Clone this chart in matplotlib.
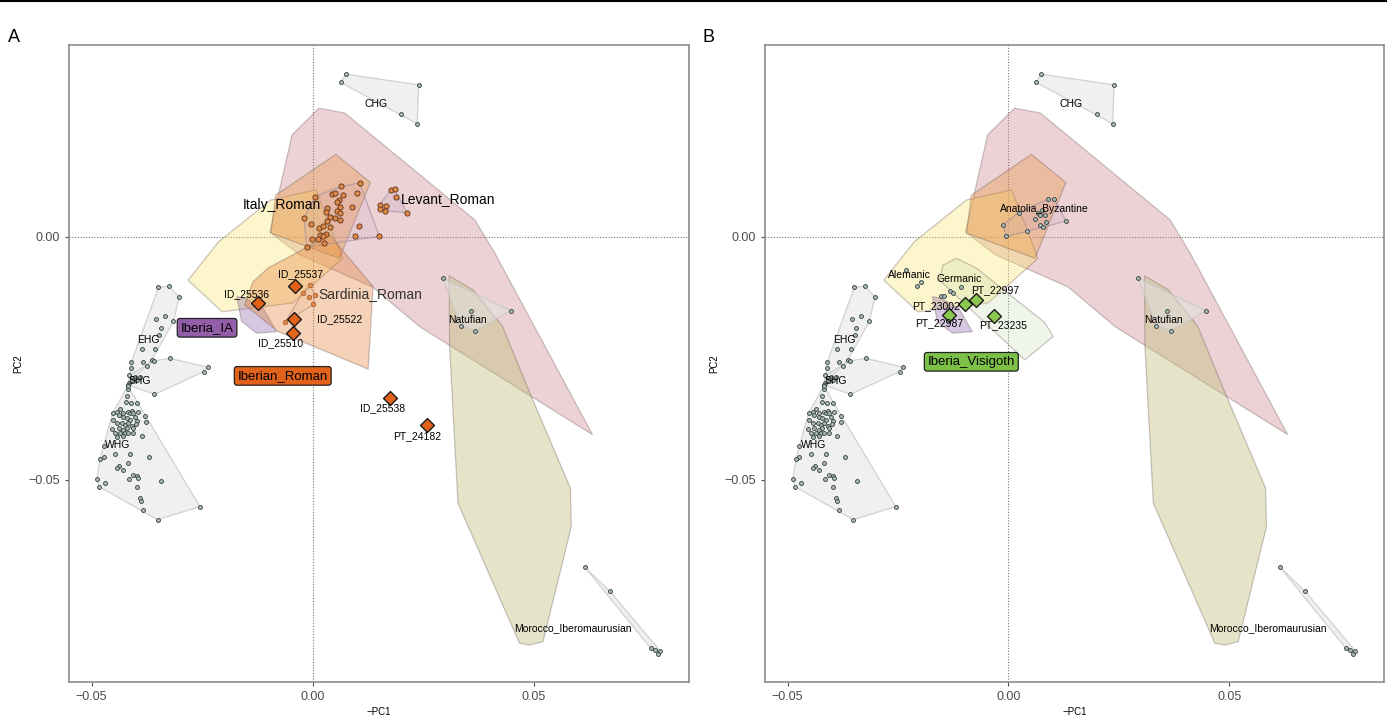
import matplotlib
matplotlib.use('Agg')
import matplotlib.pyplot as plt  # NOQA
from matplotlib.colors import to_rgba  # NOQA
from matplotlib.lines import Line2D  # NOQA
import numpy as np  # NOQA

plt.rcParams['font.family'] = ['Liberation Sans', 'DejaVu Sans']

# ---- grey reference populations (PC1 flipped, PC2) ----
chg = [[0.0074, 0.0335], [0.0063, 0.0318], [0.0239, 0.0313],
       [0.0200, 0.0254], [0.0236, 0.0233]]
ehg = [[-0.0349, -0.0104], [-0.0325, -0.0101], [-0.0302, -0.0124],
       [-0.0354, -0.0169], [-0.0334, -0.0163], [-0.0315, -0.0174],
       [-0.0344, -0.0187], [-0.0348, -0.0202], [-0.0387, -0.0231],
       [-0.0357, -0.0231], [-0.0364, -0.0254], [-0.0384, -0.0257],
       [-0.0410, -0.0258], [-0.0411, -0.0270], [-0.0415, -0.0301]]
shg = [[-0.0323, -0.0250], [-0.0238, -0.0268], [-0.0246, -0.0277],
       [-0.0358, -0.0324], [-0.0417, -0.0305], [-0.0415, -0.0285],
       [-0.0409, -0.0290], [-0.0402, -0.0288], [-0.0391, -0.0288],
       [-0.0374, -0.0265], [-0.0358, -0.0255], [-0.0409, -0.0294],
       [-0.0397, -0.0294]]
whg = [[-0.0418, -0.0313], [-0.0421, -0.0327], [-0.0422, -0.0339],
       [-0.0411, -0.0342], [-0.0398, -0.0342], [-0.0452, -0.0362],
       [-0.0443, -0.0360], [-0.0436, -0.0355], [-0.0428, -0.0363],
       [-0.0417, -0.0360], [-0.0413, -0.0363], [-0.0409, -0.0358],
       [-0.0406, -0.0362], [-0.0394, -0.0360], [-0.0379, -0.0368],
       [-0.0439, -0.0366], [-0.0428, -0.0370], [-0.0421, -0.0373],
       [-0.0413, -0.0377], [-0.0402, -0.0371], [-0.0398, -0.0378],
       [-0.0451, -0.0377], [-0.0443, -0.0383], [-0.0432, -0.0382],
       [-0.0424, -0.0387], [-0.0417, -0.0383], [-0.0409, -0.0390],
       [-0.0400, -0.0385], [-0.0378, -0.0381], [-0.0454, -0.0396],
       [-0.0439, -0.0394], [-0.0428, -0.0397], [-0.0421, -0.0394],
       [-0.0407, -0.0394], [-0.0447, -0.0403], [-0.0436, -0.0404],
       [-0.0424, -0.0404], [-0.0417, -0.0403], [-0.0406, -0.0403],
       [-0.0387, -0.0410], [-0.0443, -0.0411], [-0.0428, -0.0410],
       [-0.0473, -0.0430], [-0.0447, -0.0446], [-0.0413, -0.0446],
       [-0.0473, -0.0453], [-0.0481, -0.0458], [-0.0371, -0.0453],
       [-0.0418, -0.0466], [-0.0437, -0.0471], [-0.0443, -0.0476],
       [-0.0428, -0.0480], [-0.0406, -0.0490], [-0.0398, -0.0492],
       [-0.0415, -0.0499], [-0.0395, -0.0497], [-0.0488, -0.0499],
       [-0.0470, -0.0507], [-0.0483, -0.0514], [-0.0343, -0.0502],
       [-0.0397, -0.0514], [-0.0391, -0.0538], [-0.0389, -0.0543],
       [-0.0384, -0.0563], [-0.0351, -0.0582], [-0.0255, -0.0555],
       [-0.0418, -0.0307]]
natufian = [[0.0294, -0.0085], [0.0358, -0.0152], [0.0447, -0.0152],
            [0.0334, -0.0183], [0.0367, -0.0193]]
morocco = [[0.0614, -0.0679], [0.0671, -0.0729], [0.0764, -0.0847],
           [0.0774, -0.0850], [0.0785, -0.0852], [0.0780, -0.0858]]

grey_pops = [('CHG', chg, (0.0142, 0.0274)),
             ('EHG', ehg, (-0.0372, -0.0212)),
             ('SHG', shg, (-0.0390, -0.0296)),
             ('WHG', whg, (-0.0440, -0.0428)),
             ('Natufian', natufian, (0.0350, -0.0171)),
             ('Morocco_Iberomaurusian', morocco, (0.0587, -0.0805))]

# ---- hulls of the wider comparison groups (vertices) ----
pink_hull = [[0.0014, 0.0265], [0.0072, 0.0255], [0.0366, 0.0035],
             [0.0411, -0.0033], [0.0632, -0.0407], [0.0242, -0.0185],
             [0.0135, -0.0103], [-0.0029, -0.0037], [-0.0097, 0.0010],
             [-0.0047, 0.0210]]
olive_hull = [[0.0308, -0.0080], [0.0362, -0.0109], [0.0428, -0.0183],
              [0.0494, -0.0329], [0.0582, -0.0517], [0.0584, -0.0596],
              [0.0520, -0.0833], [0.0490, -0.0840], [0.0467, -0.0836],
              [0.0328, -0.0548], [0.0309, -0.0226]]
yellow_hull = [[-0.0282, -0.0089], [-0.0213, -0.0010], [-0.0095, 0.0076],
               [0.0007, 0.0097], [0.0067, -0.0044], [-0.0046, -0.0136],
               [-0.0205, -0.0154]]
orange_hull = [[0.0052, 0.0170], [0.0130, 0.0112], [0.0060, -0.0044],
               [-0.0095, 0.0008], [-0.0084, 0.0086]]
purple_hull = [[-0.0172, -0.0123], [-0.0161, -0.0174], [-0.0127, -0.0198],
               [-0.0082, -0.0195], [-0.0112, -0.0147], [-0.0154, -0.0126]]
peach_hull = [[-0.0135, -0.0092], [-0.0101, -0.0064], [0.0038, 0.0004],
              [0.0136, -0.0102], [0.0125, -0.0272], [-0.0078, -0.0195],
              [-0.0154, -0.0140]]
green_hull = [[-0.0148, -0.0058], [-0.0118, -0.0044], [-0.0073, -0.0064],
              [0.0082, -0.0176], [0.0101, -0.0205], [0.0037, -0.0253],
              [-0.0156, -0.0089]]

# ---- panel A populations ----
italy_roman = [[0.0064, 0.0104], [0.0106, 0.0111], [0.0005, 0.0083],
               [0.0044, 0.0088], [0.0050, 0.0090], [0.0068, 0.0086],
               [0.0099, 0.0090], [0.0059, 0.0076], [0.0054, 0.0071],
               [0.0031, 0.0060], [0.0061, 0.0062], [0.0089, 0.0062],
               [0.0029, 0.0052], [0.0055, 0.0054], [0.0061, 0.0050],
               [-0.0020, 0.0039], [0.0038, 0.0042], [0.0050, 0.0039],
               [0.0061, 0.0035], [0.0031, 0.0032], [-0.0005, 0.0027],
               [0.0014, 0.0018], [0.0023, 0.0023], [0.0038, 0.0021],
               [0.0105, 0.0023], [0.0016, 0.0004], [0.0029, 0.0006],
               [0.0022, 0.0002], [0.0095, 0.0001], [-0.0001, -0.0005],
               [0.0012, -0.0005], [0.0025, -0.0012], [-0.0014, -0.0021],
               [0.0150, 0.0001]]
levant_roman = [[0.0176, 0.0097], [0.0185, 0.0098], [0.0188, 0.0082],
                [0.0151, 0.0066], [0.0165, 0.0064], [0.0151, 0.0057],
                [0.0164, 0.0054], [0.0212, 0.0050]]
sardinia_roman = [[-0.0007, -0.0099], [-0.0023, -0.0115], [-0.0008, -0.0124],
                  [0.0005, -0.0120], [0.0001, -0.0139], [-0.0063, -0.0176]]
iberian_roman_ids = ['ID_25537', 'ID_25536', 'ID_25522', 'ID_25510',
                     'ID_25538', 'PT_24182']
iberian_roman = [[-0.0041, -0.0101], [-0.0124, -0.0135], [-0.0043, -0.0169],
                 [-0.0045, -0.0198], [0.0174, -0.0331], [0.0258, -0.0388]]
iberian_roman_lab = [[-0.0029, -0.0076], [-0.0151, -0.0117], [0.0060, -0.0169],
                     [-0.0072, -0.0218], [0.0158, -0.0352], [0.0235, -0.0410]]

# ---- panel B populations ----
anatolia_byz = [[0.0090, 0.0078], [0.0104, 0.0078], [0.0023, 0.0050],
                [0.0075, 0.0056], [0.0067, 0.0050], [0.0071, 0.0045],
                [0.0082, 0.0045], [0.0061, 0.0036], [0.0084, 0.0030],
                [0.0071, 0.0025], [0.0079, 0.0020], [0.0130, 0.0033],
                [-0.0012, 0.0025], [0.0043, 0.0013], [-0.0005, 0.0001]]
alemanic = [[-0.0231, -0.0069], [-0.0206, -0.0102], [-0.0197, -0.0092]]
germanic = [[-0.0133, -0.0111], [-0.0125, -0.0115], [-0.0107, -0.0104],
            [-0.0152, -0.0121], [-0.0146, -0.0121]]
visigoth_ids = ['PT_22997', 'PT_23002', 'PT_22987', 'PT_23235']
visigoth = [[-0.0074, -0.0130], [-0.0098, -0.0138], [-0.0135, -0.0161],
            [-0.0032, -0.0163]]
visigoth_lab = [[-0.0029, -0.0109], [-0.0163, -0.0142], [-0.0156, -0.0178],
                [-0.0012, -0.0181]]

xlim = (-0.0551, 0.0850)
ylim = (-0.0916, 0.0395)
grey_pt = dict(s=8, facecolor='#a9b8b4', edgecolor='#33403e',
               linewidths=0.6, zorder=5)
orange_pt = dict(s=14, facecolor='#e0884a', edgecolor='#5a3216',
                 linewidths=0.6, zorder=5)


def convex_hull(pts):
    pts = sorted(map(tuple, pts))

    def cross(o, a, b):
        return (a[0]-o[0])*(b[1]-o[1]) - (a[1]-o[1])*(b[0]-o[0])
    lower, upper = [], []
    for p in pts:
        while len(lower) >= 2 and cross(lower[-2], lower[-1], p) <= 0:
            lower.pop()
        lower.append(p)
    for p in reversed(pts):
        while len(upper) >= 2 and cross(upper[-2], upper[-1], p) <= 0:
            upper.pop()
        upper.append(p)
    return np.array(lower[:-1] + upper[:-1])


def poly(ax, verts, color, alpha, ec='#6e5a5a', ec_alpha=0.35, z=1):
    ax.fill(*np.array(verts).T, facecolor=to_rgba(color, alpha),
            edgecolor=to_rgba(ec, ec_alpha), linewidth=0.9, zorder=z)


def pop_hull(ax, pts, color, alpha, ec, ec_alpha=0.6):
    h = convex_hull(pts)
    poly(ax, h, color, alpha, ec=ec, ec_alpha=ec_alpha, z=3)


def label_box(ax, xy, text, fc):
    ax.text(*xy, text, fontsize=9.5, ha='center', va='center', zorder=9,
            bbox=dict(boxstyle='round,pad=0.25,rounding_size=0.2', fc=fc,
                      ec='#222222', lw=0.9))


def base_panel(ax):
    poly(ax, pink_hull, '#c36c73', 0.30)
    poly(ax, olive_hull, '#bebc76', 0.40)
    poly(ax, yellow_hull, '#fbe36f', 0.35)
    poly(ax, orange_hull, '#e8923a', 0.35)
    poly(ax, purple_hull, '#8d62a9', 0.35)
    for name, pts, lab in grey_pops:
        pts = np.array(pts)
        pop_hull(ax, pts, '#e2e2e2', 0.5, '#c8c8c8', 0.8)
        ax.scatter(pts[:, 0], pts[:, 1], **grey_pt)
        ax.text(*lab, name, fontsize=7.5, ha='center', va='center',
                zorder=8)
    ax.axhline(0, color='#777777', ls=(0, (1, 1.5)), lw=0.8, zorder=0.5)
    ax.axvline(0, color='#777777', ls=(0, (1, 1.5)), lw=0.8, zorder=0.5)
    ax.set_xlim(*xlim)
    ax.set_ylim(*ylim)
    ax.set_xticks([-0.05, 0, 0.05])
    ax.set_xticklabels(['\u22120.05', '0.00', '0.05'])
    ax.set_yticks([-0.05, 0])
    ax.set_yticklabels(['\u22120.05', '0.00'])
    ax.tick_params(labelsize=9, colors='#4d4d4d', length=3, width=0.8)
    for sp in ax.spines.values():
        sp.set_color('#8c8c8c')
        sp.set_linewidth(1.2)
    ax.set_xlabel('\u2212PC1', fontsize=7, labelpad=3)
    ax.set_ylabel('PC2', fontsize=7, labelpad=4)


def main():
    fig = plt.figure(figsize=(13.87, 7.16), dpi=100)
    axA = fig.add_axes([69/1387, 34/716, 620/1387, 637/716])
    axB = fig.add_axes([765/1387, 34/716, 619/1387, 637/716])
    fig.add_artist(Line2D([0, 1], [0.999, 0.999], color='black', lw=1.5))
    fig.text(8/1387, 1-37/716, 'A', fontsize=13, va='center')
    fig.text(702/1387, 1-37/716, 'B', fontsize=13, va='center')

    # panel A
    base_panel(axA)
    poly(axA, peach_hull, '#e57e34', 0.35)
    it = np.array(italy_roman)
    lv = np.array(levant_roman)
    sr = np.array(sardinia_roman)
    pop_hull(axA, it, '#c8a0c0', 0.15, '#9a8aa0')
    pop_hull(axA, lv, '#c8a0c0', 0.25, '#9a8aa0')
    pop_hull(axA, sr, '#f0b890', 0.25, '#c09070')
    axA.scatter(it[:, 0], it[:, 1], **orange_pt)
    axA.scatter(lv[:, 0], lv[:, 1], **orange_pt)
    axA.scatter(sr[:, 0], sr[:, 1], s=11, facecolor='#e0884a',
                edgecolor='#a0582a', linewidths=0.5, zorder=5)
    axA.text(-0.0070, 0.0066, 'Italy_Roman', fontsize=10, ha='center',
             va='center', zorder=8)
    axA.text(0.0305, 0.0078, 'Levant_Roman', fontsize=10, ha='center',
             va='center', zorder=8)
    axA.text(0.0129, -0.0117, 'Sardinia_Roman', fontsize=10, ha='center',
             va='center', color='#333333', zorder=8)
    ir = np.array(iberian_roman)
    axA.scatter(ir[:, 0], ir[:, 1], marker='D', s=50, facecolor='#e2621a',
                edgecolor='#1a1a1a', linewidths=1.0, zorder=7)
    for name, xy in zip(iberian_roman_ids, iberian_roman_lab):
        axA.text(*xy, name, fontsize=7.5, ha='center', va='center', zorder=8)
    label_box(axA, (-0.0239, -0.0187), 'Iberia_IA', '#935da7')
    label_box(axA, (-0.0068, -0.0286), 'Iberian_Roman', '#e2621a')

    # panel B
    base_panel(axB)
    poly(axB, green_hull, '#c3dbab', 0.25)
    an = np.array(anatolia_byz)
    pop_hull(axB, an, '#c8a0c0', 0.2, '#9a8aa0')
    axB.scatter(an[:, 0], an[:, 1], **grey_pt)
    al = np.array(alemanic)
    ge = np.array(germanic)
    axB.scatter(al[:, 0], al[:, 1], **grey_pt)
    axB.scatter(ge[:, 0], ge[:, 1], **grey_pt)
    axB.text(0.0082, 0.0058, 'Anatolia_Byzantine', fontsize=7.5,
             ha='center', va='center', zorder=8)
    axB.text(-0.0224, -0.0078, 'Alemanic', fontsize=7.5, ha='center',
             va='center', zorder=8)
    axB.text(-0.0111, -0.0086, 'Germanic', fontsize=7.5, ha='center',
             va='center', zorder=8)
    vg = np.array(visigoth)
    axB.scatter(vg[:, 0], vg[:, 1], marker='D', s=50, facecolor='#8cc850',
                edgecolor='#1a1a1a', linewidths=1.0, zorder=7)
    for name, xy in zip(visigoth_ids, visigoth_lab):
        axB.text(*xy, name, fontsize=7.5, ha='center', va='center', zorder=8)
    label_box(axB, (-0.0084, -0.0257), 'Iberia_Visigoth', '#7dc048')

    fig.savefig('out.png', dpi=100)


if __name__ == '__main__':
    main()
